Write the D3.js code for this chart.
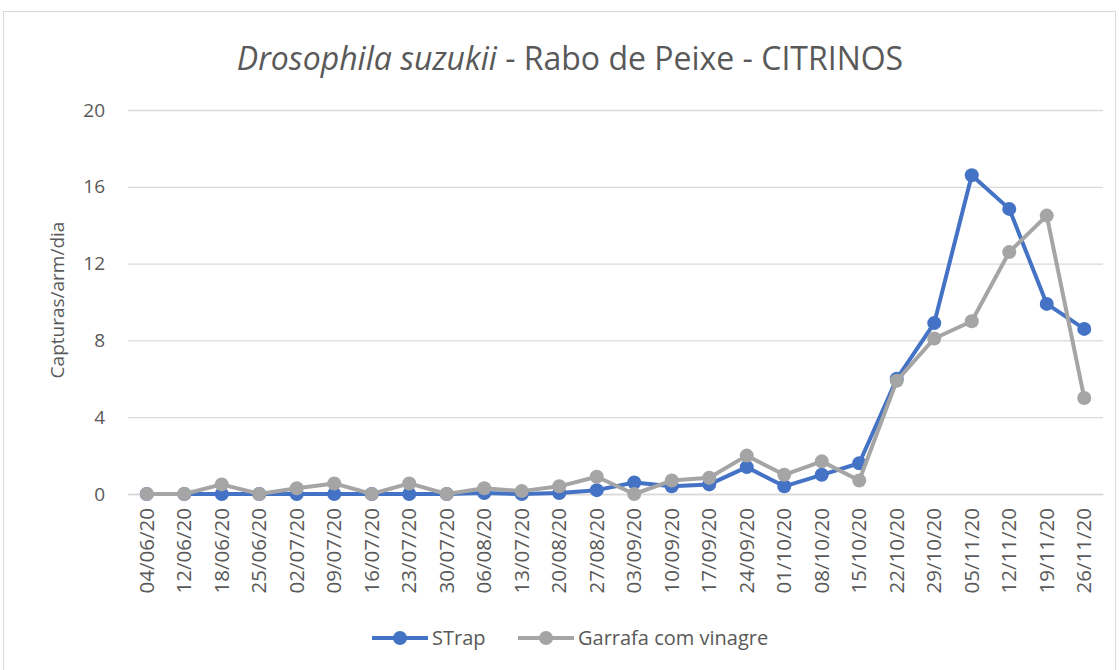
<!DOCTYPE html>
<html>
<head>
<meta charset="utf-8">
<script src="https://cdn.jsdelivr.net/npm/d3@7"></script>
<style>
  body { margin: 0; background: #fff; }
  text { font-family: "Open Sans", "Liberation Sans", sans-serif; fill: #595959; }
</style>
</head>
<body>
<svg id="chart" width="1119" height="670"></svg>
<script>
// Data
const dates = ['04/06/20', '12/06/20', '18/06/20', '25/06/20', '02/07/20', '09/07/20', '16/07/20',
    '23/07/20', '30/07/20', '06/08/20', '13/07/20', '20/08/20', '27/08/20', '03/09/20', '10/09/20',
    '17/09/20', '24/09/20', '01/10/20', '08/10/20', '15/10/20', '22/10/20', '29/10/20', '05/11/20',
    '12/11/20', '19/11/20', '26/11/20'];
const strap_values = [0, 0, 0, 0, 0, 0, 0, 0, 0, 0.05, 0, 0.05, 0.2, 0.6, 0.4, 0.5, 1.4, 0.4, 1.0, 1.6,
    6.0, 8.9, 16.6, 14.85, 9.9, 8.6];
const garrafa_values = [0, 0, 0.5, 0, 0.3, 0.55, 0, 0.55, 0, 0.3, 0.15, 0.4, 0.9, 0, 0.7, 0.85, 2.0, 1.0,
    1.7, 0.7, 5.9, 8.1, 9.0, 12.6, 14.5, 5.0];
const y_ticks = [0, 4, 8, 12, 16, 20];

const series = [
    { name: 'STrap', values: strap_values, color: '#4472C4' },
    { name: 'Garrafa com vinagre', values: garrafa_values, color: '#A5A5A5' }
];

const svg = d3.select('#chart');

// Chart frame
svg.append('rect')
    .attr('x', 3.5).attr('y', 11.5)
    .attr('width', 1112).attr('height', 670)
    .attr('fill', 'none').attr('stroke', '#d9d9d9');

// Scales
const x = d3.scaleBand().domain(dates).range([128, 1103]);
const y = d3.scaleLinear().domain([0, 20]).range([494, 110]);
const x_pos = (d) => x(d) + x.bandwidth() / 2;

// Gridlines + y tick labels
const y_axis = svg.append('g')
    .attr('transform', 'translate(128,0)')
    .call(d3.axisLeft(y).tickValues(y_ticks).tickSize(-975).tickPadding(23));
y_axis.select('.domain').remove();
y_axis.selectAll('line').attr('stroke', '#d9d9d9').attr('stroke-width', 1.3);
y_axis.selectAll('text').style('font-size', '19px').attr('fill', '#595959');

// X axis labels, rotated
const x_axis = svg.append('g')
    .attr('transform', 'translate(0,494)')
    .call(d3.axisBottom(x).tickSize(0).tickPadding(0));
x_axis.select('.domain').attr('stroke', '#d9d9d9').attr('stroke-width', 1.3);
x_axis.selectAll('text')
    .style('font-size', '20.5px')
    .attr('fill', '#595959')
    .attr('text-anchor', 'end')
    .attr('dy', '0.35em')
    .attr('transform', 'translate(0,14) rotate(-90)')
    .attr('x', 0).attr('y', 0);

// Lines and markers
const line = d3.line()
    .x((d, i) => x_pos(dates[i]))
    .y((d) => y(d));

series.forEach((s) => {
    const g = svg.append('g');
    g.append('path')
        .datum(s.values)
        .attr('d', line)
        .attr('fill', 'none')
        .attr('stroke', s.color)
        .attr('stroke-width', 4)
        .attr('stroke-linejoin', 'round');
    g.selectAll('circle')
        .data(s.values)
        .join('circle')
        .attr('cx', (d, i) => x_pos(dates[i]))
        .attr('cy', (d) => y(d))
        .attr('r', 7)
        .attr('fill', s.color);
});

// Title
const title = svg.append('text')
    .attr('x', 570).attr('y', 70)
    .attr('text-anchor', 'middle')
    .style('font-size', '32px');
title.append('tspan').style('font-style', 'italic').text('Drosophila suzukii');
title.append('tspan').text(' - Rabo de Peixe - CITRINOS');

// Y axis title
svg.append('text')
    .attr('transform', 'translate(64,300) rotate(-90)')
    .attr('text-anchor', 'middle')
    .style('font-size', '19px')
    .text('Capturas/arm/dia');

// Legend
const legend_items = [
    { s: series[0], x: 372 },
    { s: series[1], x: 518 }
];
legend_items.forEach(({ s, x: lx }) => {
    const g = svg.append('g').attr('transform', `translate(${lx},638)`);
    g.append('line').attr('x1', 0).attr('x2', 56)
        .attr('stroke', s.color).attr('stroke-width', 4);
    g.append('circle').attr('cx', 28).attr('r', 7).attr('fill', s.color);
    g.append('text').attr('x', 60).attr('dy', '0.35em')
        .style('font-size', '20px').text(s.name);
});
</script>
</body>
</html>
